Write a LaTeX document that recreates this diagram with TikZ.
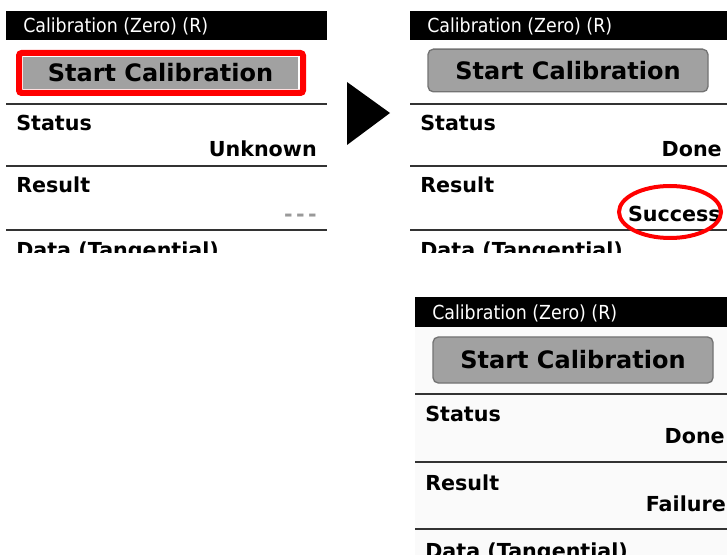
\documentclass[tikz,border=0pt]{standalone}
\usepackage{fontspec}
\setmainfont{DejaVu Sans}
\newfontfamily\condfont{DejaVu Sans Condensed}

\begin{document}
\begin{tikzpicture}[x=0.75pt, y=-0.75pt,
  title/.style = {anchor=base west, inner sep=0, text=white, font=\condfont\fontsize{14.5}{17}\selectfont},
  btn/.style = {draw=black!55, fill=black!37, rounded corners=4pt, line width=1pt, minimum width=210pt, minimum height=32pt, inner sep=0, font=\bfseries\fontsize{18}{20}\selectfont},
  lbl/.style = {anchor=base west, inner sep=0, font=\bfseries\fontsize{15.5}{18}\selectfont},
  val/.style = {anchor=base east, inner sep=0, font=\bfseries\fontsize{15.5}{18}\selectfont},
  sep/.style = {draw=black!80, line width=1.5pt},
  hlbox/.style = {draw=red, line width=4.5pt, rounded corners=2pt},
  hlring/.style = {draw=red, line width=3pt}]
\useasboundingbox (0,0) rectangle (727,555);

% before
\begin{scope}
\clip (6,11) rectangle (327,253);
\fill (6,11) rectangle (327,40);
\node[title] (t1) at (23,33) {Calibration (Zero) (R)};
\node[btn, draw=none, rounded corners=0pt, minimum width=206pt, minimum height=24pt] (b1) at (160.5,73) {Start Calibration};
\draw[sep] (6,104) -- (327,104);
\node[lbl] (s1) at (16,131) {Status};
\node[val] (sv1) at (317,157) {Unknown};
\draw[sep] (6,166) -- (327,166);
\node[lbl] (r1) at (16,193) {Result};
\node[val, text=black!40] (rv1) at (317,222) {-\,-\,-};
\draw[sep] (6,230) -- (327,230);
\node[lbl] (d1) at (16,258) {Data (Tangential)};
\end{scope}
\draw[hlbox] (19,53) rectangle (303,93);

% arrow
\fill (347,82) -- (390,113) -- (347,145) -- cycle;

% success
\begin{scope}
\clip (410,11) rectangle (727,253);
\fill (410,11) rectangle (727,40);
\node[title] (t2) at (427,33) {Calibration (Zero) (R)};
\node[btn] (b2) at (568,70.5) {Start Calibration};
\draw[sep] (410,104) -- (727,104);
\node[lbl] (s2) at (420,131) {Status};
\node[val] (sv2) at (722,157) {Done};
\draw[sep] (410,166) -- (727,166);
\node[lbl] (r2) at (420,193) {Result};
\node[val] (rv2) at (721,222) {Success};
\draw[sep] (410,230) -- (727,230);
\node[lbl] (d2) at (420,258) {Data (Tangential)};
\end{scope}
\draw[hlring] (670,212) ellipse [x radius=51, y radius=26];

% failure
\begin{scope}
\clip (415,297) rectangle (727,555);
\fill[black!2] (415,297) rectangle (727,555);
\fill (415,297) rectangle (727,327);
\node[title] (t3) at (432,320) {Calibration (Zero) (R)};
\node[btn, minimum height=34.5pt] (b3) at (573,360) {Start Calibration};
\draw[sep] (415,394) -- (727,394);
\node[lbl] (s3) at (425,421) {Status};
\node[val] (sv3) at (725,443) {Done};
\draw[sep] (415,462) -- (727,462);
\node[lbl] (r3) at (425,490) {Result};
\node[val] (rv3) at (726,511) {Failure};
\draw[sep] (415,529) -- (727,529);
\node[lbl] (d3) at (425,558) {Data (Tangential)};
\end{scope}
\end{tikzpicture}
\end{document}
